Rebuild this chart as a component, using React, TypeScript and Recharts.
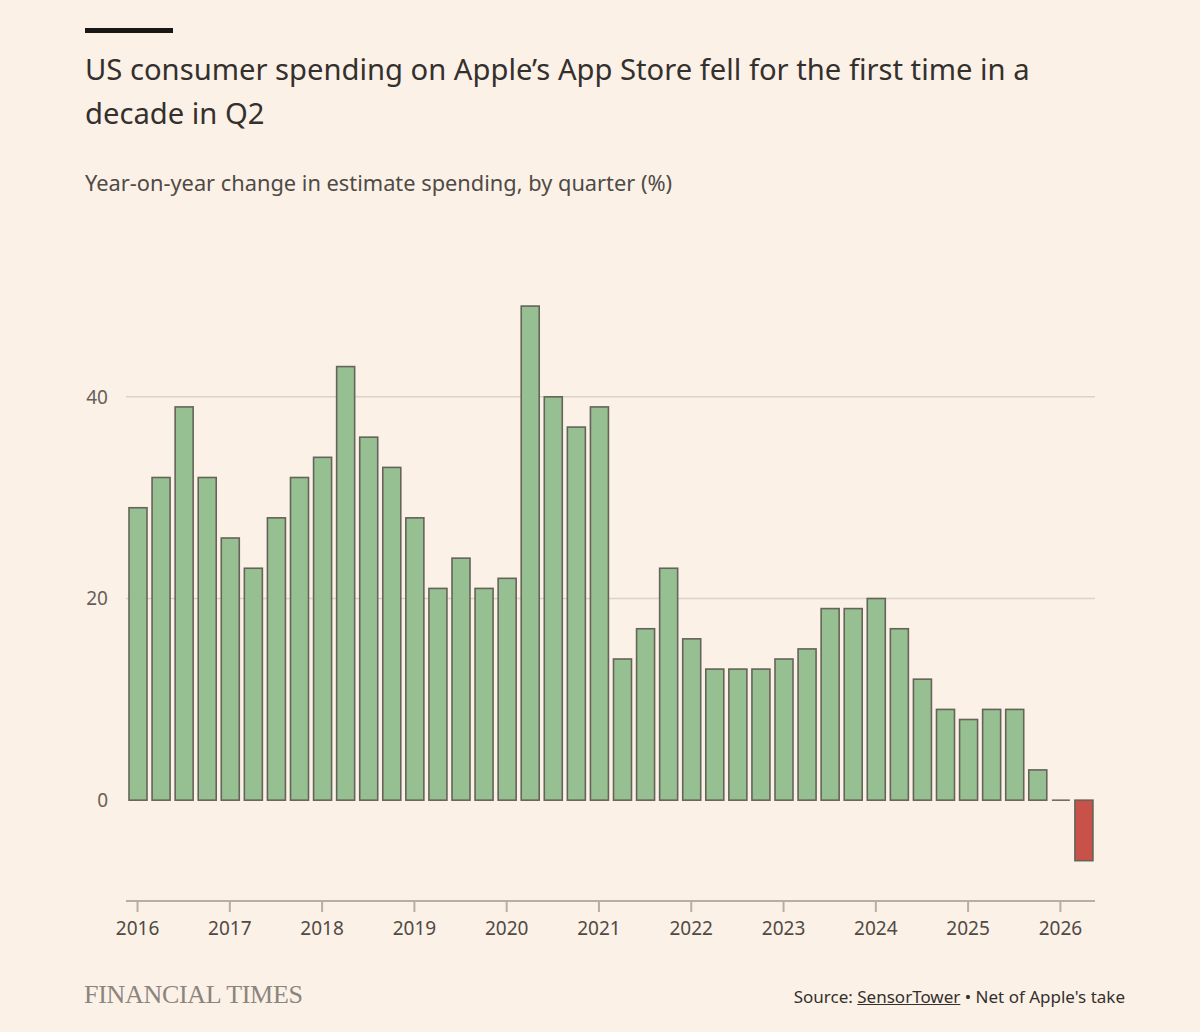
import { BarChart, Bar, XAxis, YAxis, CartesianGrid, Cell } from 'recharts'

// one entry per quarter, axis labelled by year
const quarters = [
  '2016 Q1', '2016 Q2', '2016 Q3', '2016 Q4',
  '2017 Q1', '2017 Q2', '2017 Q3', '2017 Q4',
  '2018 Q1', '2018 Q2', '2018 Q3', '2018 Q4',
  '2019 Q1', '2019 Q2', '2019 Q3', '2019 Q4',
  '2020 Q1', '2020 Q2', '2020 Q3', '2020 Q4',
  '2021 Q1', '2021 Q2', '2021 Q3', '2021 Q4',
  '2022 Q1', '2022 Q2', '2022 Q3', '2022 Q4',
  '2023 Q1', '2023 Q2', '2023 Q3', '2023 Q4',
  '2024 Q1', '2024 Q2', '2024 Q3', '2024 Q4',
  '2025 Q1', '2025 Q2', '2025 Q3', '2025 Q4',
  '2026 Q1', '2026 Q2',
]

const yoyChange = [
  29, 32, 39, 32,
  26, 23, 28, 32,
  34, 43, 36, 33,
  28, 21, 24, 21,
  22, 49, 40, 37,
  39, 14, 17, 23,
  16, 13, 13, 13,
  14, 15, 19, 19,
  20, 17, 12, 9,
  8, 9, 9, 3,
  0, -6,
]

const yearTicks = ['2016 Q1', '2017 Q1', '2018 Q1', '2019 Q1', '2020 Q1', '2021 Q1', '2022 Q1', '2023 Q1', '2024 Q1', '2025 Q1', '2026 Q1']
const valueTicks = [0, 20, 40]
const gridValues = [20, 40]

const data = quarters.map((q, i) => ({ quarter: q, value: yoyChange[i] }))

const FONT = '"Noto Sans", "Open Sans", sans-serif'
const STROKE = '#66635a'

// recharts drops zero-height rects, FT still draws a flat line for them
function BarShape(props: any) {
  const { x, y, width, height, fill } = props
  if (!height) {
    return <line x1={x} x2={x + width} y1={y} y2={y} stroke={STROKE} strokeWidth={1.5} />
  }
  const top = height < 0 ? y + height : y
  return <rect x={x} y={top} width={width} height={Math.abs(height)} fill={fill} stroke={STROKE} strokeWidth={1.6} />
}

export default function App() {
  return (
    <div style={{ position: 'absolute', left: 0, top: 0, width: 1200, height: 1032, background: '#fcf1e6', fontFamily: FONT, overflow: 'hidden' }}>
      <div style={{ position: 'absolute', left: 85, top: 28, width: 88, height: 5, background: '#1a1817' }} />
      <div style={{ position: 'absolute', left: 85, top: 47, width: 1000, fontSize: 29.2, lineHeight: '44px', color: '#33302e' }}>
        US consumer spending on Apple’s App Store fell for the first time in a decade in Q2
      </div>
      <div style={{ position: 'absolute', left: 85, top: 168, fontSize: 21.8, color: '#4f4a46' }}>
        Year-on-year change in estimate spending, by quarter (%)
      </div>

      <div style={{ position: 'absolute', left: 0, top: 0 }}>
        <BarChart width={1200} height={960} data={data} margin={{ top: 296, right: 105, left: 80, bottom: 19 }} barSize={18}>
          <CartesianGrid vertical={false} horizontalValues={gridValues} stroke="#dcd2c8" strokeWidth={1.5} />
          <XAxis
            dataKey="quarter"
            ticks={yearTicks}
            interval={0}
            tickFormatter={v => String(v).slice(0, 4)}
            tick={{ fontSize: 19, fill: '#4f4a46', fontFamily: FONT }}
            axisLine={{ stroke: '#b9aea5', strokeWidth: 2 }}
            tickLine={{ stroke: '#b9aea5', strokeWidth: 2 }}
            tickSize={11}
            tickMargin={10}
            height={40}
          />
          <YAxis
            domain={[-10, 50]}
            ticks={valueTicks}
            allowDataOverflow
            axisLine={false}
            tickLine={false}
            tickSize={0}
            tickMargin={18}
            width={46}
            tick={{ fontSize: 19, fill: '#66605b', fontFamily: FONT }}
          />
          <Bar dataKey="value" shape={BarShape} isAnimationActive={false}>
            {data.map(d => (
              <Cell key={d.quarter} fill={d.value < 0 ? '#c8524a' : '#96c092'} />
            ))}
          </Bar>
        </BarChart>
      </div>

      <div style={{ position: 'absolute', left: 84, top: 980, fontFamily: '"Liberation Serif", serif', fontSize: 26, color: '#8b857f', letterSpacing: -0.3 }}>
        FINANCIAL TIMES
      </div>
      <div style={{ position: 'absolute', right: 75, top: 985, fontSize: 17, color: '#33302e' }}>
        Source: <span style={{ textDecoration: 'underline' }}>SensorTower</span> • Net of Apple's take
      </div>
    </div>
  )
}
